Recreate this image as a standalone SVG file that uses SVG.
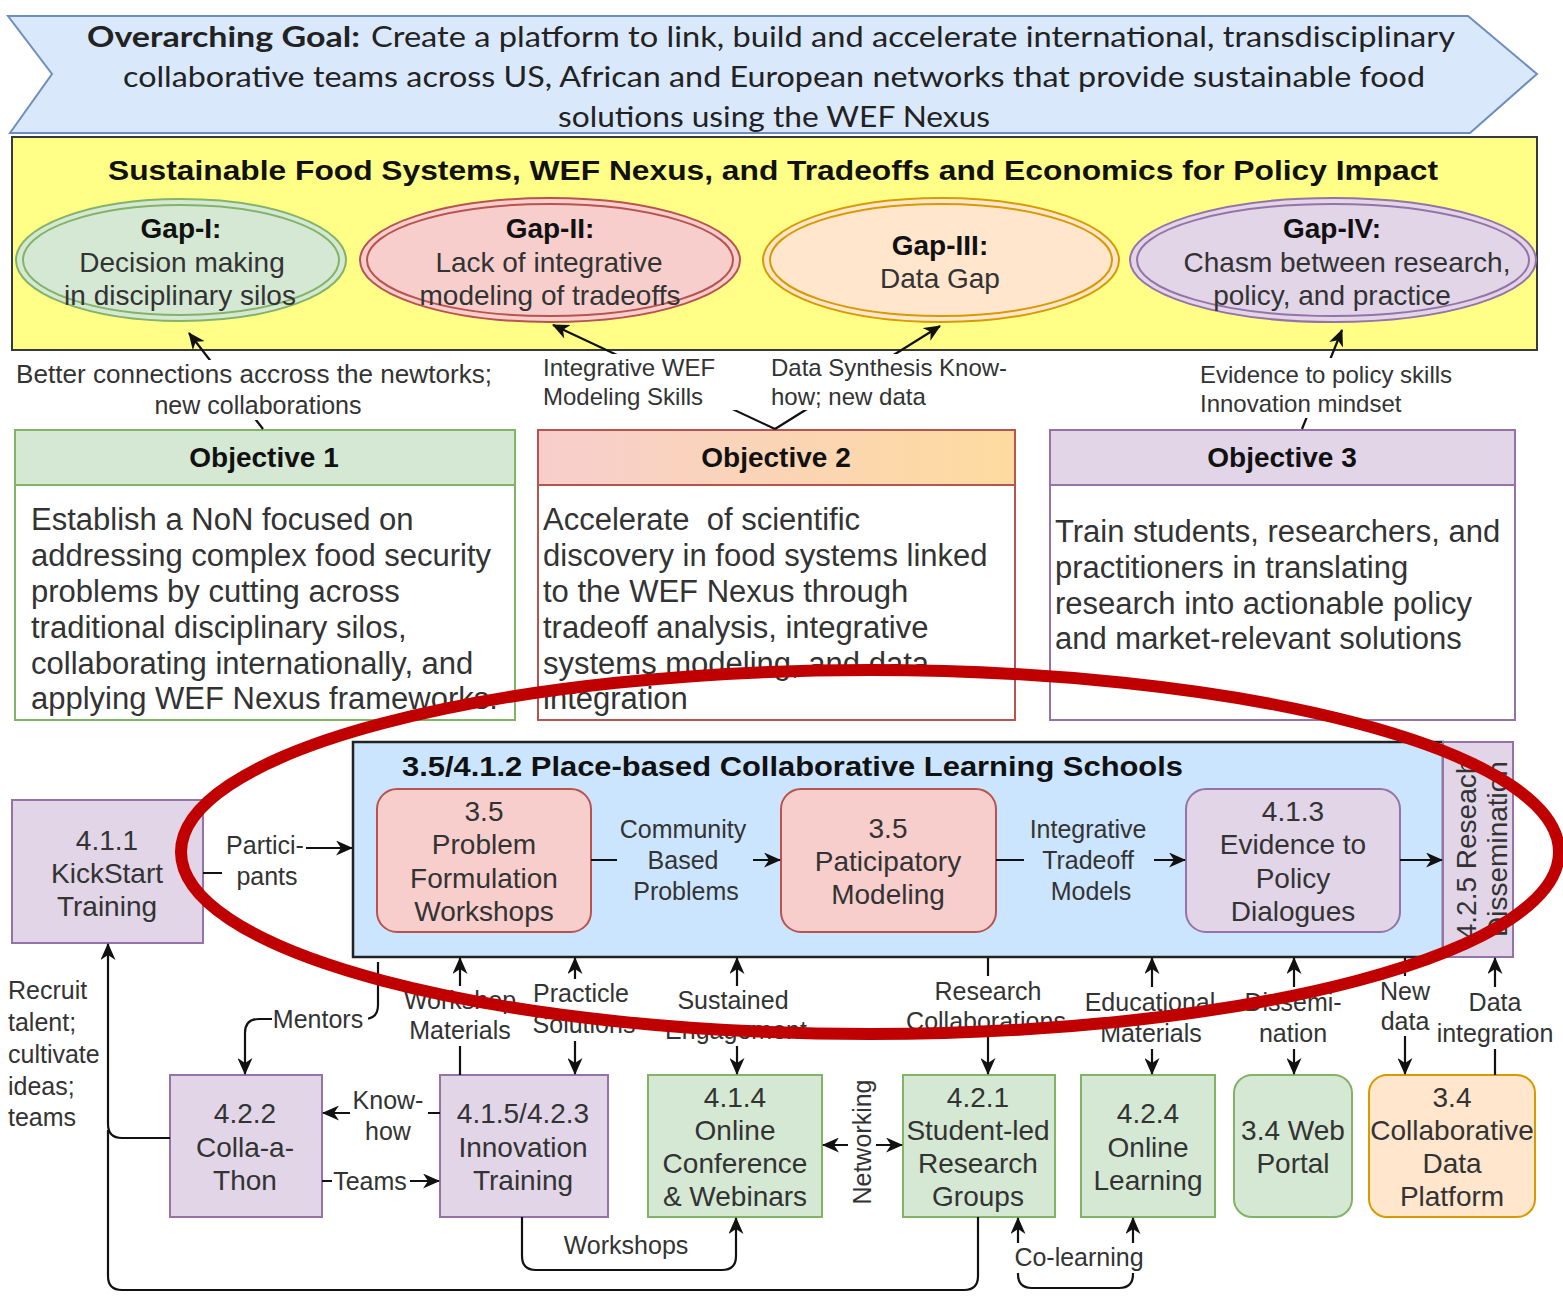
<svg xmlns="http://www.w3.org/2000/svg" width="1563" height="1296" viewBox="0 0 1563 1296">
<defs>
<style>
.t{font-family:"Liberation Sans",Arial,sans-serif;fill:#333}
.k{fill:#111}
.c{text-anchor:middle}
.b{font-weight:bold}
.s24{font-size:24px}
.s25{font-size:25px}
.s28{font-size:28px}
.s30{font-size:31px}
.cal{font-family:Lato,"Open Sans",sans-serif;font-size:28px;fill:#222}
.e{fill:none;stroke:#111;stroke-width:2.2}
.g{fill:#d5e8d4;stroke:#82b366;stroke-width:2}
.r{fill:#f8cecc;stroke:#b85450;stroke-width:2}
.o{fill:#ffe6cc;stroke:#d79b00;stroke-width:2}
.p{fill:#e1d5e7;stroke:#9673a6;stroke-width:2}
.w{fill:#fff;stroke:none}
.lb{fill:#cce5ff;stroke:none}
</style>
<linearGradient id="obj2g" x1="0" y1="0" x2="1" y2="0">
<stop offset="0" stop-color="#f8cecc"/>
<stop offset="1" stop-color="#fddb9f"/>
</linearGradient>
<marker id="ah" viewBox="0 0 17 15" refX="16" refY="7.5" markerWidth="17" markerHeight="15" markerUnits="userSpaceOnUse" orient="auto-start-reverse">
<path d="M0,0 L17,7.5 L0,15 L5,7.5 z" fill="#111"/>
</marker>
</defs>
<rect width="1563" height="1296" fill="#fff"/>

<g id="goal">
<polygon points="8,16 1468,16 1537,74 1470,133 10,133 52,74" fill="#dae8fc" stroke="#6c8ebf" stroke-width="2"/>
<text class="cal b" x="87" y="47" textLength="273" lengthAdjust="spacingAndGlyphs">Overarching Goal:</text>
<text class="cal" x="371" y="47" textLength="1084" lengthAdjust="spacingAndGlyphs">Create a platform to link, build and accelerate international, transdisciplinary</text>
<text class="cal" x="123" y="87" textLength="1302" lengthAdjust="spacingAndGlyphs">collaborative teams across US, African and European networks that provide sustainable food</text>
<text class="cal" x="558" y="127" textLength="432" lengthAdjust="spacingAndGlyphs">solutions using the WEF Nexus</text>
</g>

<g id="impact">
<rect x="12" y="137" width="1525" height="213" fill="#ffff88" stroke="#36393d" stroke-width="2"/>
<text class="t k b s28" x="108" y="180" textLength="1330" lengthAdjust="spacingAndGlyphs">Sustainable Food Systems, WEF Nexus, and Tradeoffs and Economics for Policy Impact</text>
</g>

<g id="gap1">
<ellipse cx="181" cy="260" rx="165" ry="61" class="g"/>
<ellipse cx="181" cy="260" rx="158" ry="55" fill="none" stroke="#82b366" stroke-width="2"/>
<text class="t k c b s28" x="181" y="238">Gap-I:</text>
<text class="t c s28" x="182" y="272">Decision making</text>
<text class="t c s28" x="180" y="305">in disciplinary silos</text>
</g>
<g id="gap2">
<ellipse cx="550" cy="260" rx="190" ry="62" class="r"/>
<ellipse cx="550" cy="260" rx="183" ry="56" fill="none" stroke="#b85450" stroke-width="2"/>
<text class="t k c b s28" x="550" y="238">Gap-II:</text>
<text class="t c s28" x="549" y="272">Lack of integrative</text>
<text class="t c s28" x="550" y="305">modeling of tradeoffs</text>
</g>
<g id="gap3">
<ellipse cx="941" cy="260" rx="178" ry="62" class="o"/>
<ellipse cx="941" cy="260" rx="171" ry="56" fill="none" stroke="#d79b00" stroke-width="2"/>
<text class="t k c b s28" x="940" y="255">Gap-III:</text>
<text class="t c s28" x="940" y="288">Data Gap</text>
</g>
<g id="gap4">
<ellipse cx="1333" cy="260" rx="203" ry="62" class="p"/>
<ellipse cx="1333" cy="260" rx="196" ry="56" fill="none" stroke="#9673a6" stroke-width="2"/>
<text class="t k c b s28" x="1332" y="238">Gap-IV:</text>
<text class="t c s28" x="1347" y="272">Chasm between research,</text>
<text class="t c s28" x="1332" y="305">policy, and practice</text>
</g>

<g id="obj1">
<rect x="15" y="430" width="500" height="290" fill="#fff" stroke="#82b366" stroke-width="2"/>
<rect x="15" y="430" width="500" height="55" class="g"/>
<text class="t k c b s28" x="264" y="467">Objective 1</text>
<text class="t s30" x="31" y="530">Establish a NoN focused on</text>
<text class="t s30" x="31" y="566">addressing complex food security</text>
<text class="t s30" x="31" y="602">problems by cutting across</text>
<text class="t s30" x="31" y="638">traditional disciplinary silos,</text>
<text class="t s30" x="31" y="674">collaborating internationally, and</text>
<text class="t s30" x="31" y="709">applying WEF Nexus frameworks.</text>
</g>
<g id="obj2">
<rect x="538" y="430" width="477" height="290" fill="#fff" stroke="#b85450" stroke-width="2"/>
<rect x="538" y="430" width="477" height="55" fill="url(#obj2g)" stroke="#b85450" stroke-width="2"/>
<text class="t k c b s28" x="776" y="467">Objective 2</text>
<text class="t s30" x="543" y="530" xml:space="preserve">Accelerate  of scientific</text>
<text class="t s30" x="543" y="566">discovery in food systems linked</text>
<text class="t s30" x="543" y="602">to the WEF Nexus through</text>
<text class="t s30" x="543" y="638">tradeoff analysis, integrative</text>
<text class="t s30" x="543" y="674">systems modeling, and data</text>
<text class="t s30" x="543" y="709">integration</text>
</g>
<g id="obj3">
<rect x="1050" y="430" width="465" height="290" fill="#fff" stroke="#9673a6" stroke-width="2"/>
<rect x="1050" y="430" width="465" height="55" class="p"/>
<text class="t k c b s28" x="1282" y="467">Objective 3</text>
<text class="t s30" x="1055" y="542">Train students, researchers, and</text>
<text class="t s30" x="1055" y="578">practitioners in translating</text>
<text class="t s30" x="1055" y="614">research into actionable policy</text>
<text class="t s30" x="1055" y="649">and market-relevant solutions</text>
</g>

<g id="schools">
<rect x="353" y="742" width="1090" height="215" fill="#cce5ff" stroke="#222" stroke-width="2.5"/>
<text class="t k b s28" x="402" y="776" textLength="781" lengthAdjust="spacingAndGlyphs">3.5/4.1.2 Place-based Collaborative Learning Schools</text>
</g>
<g id="n425">
<rect x="1443" y="742" width="70" height="215" class="p"/>
<text class="t c s28" transform="translate(1476,849) rotate(-90)" x="0" y="0">4.2.5 Reseach</text>
<text class="t c s28" transform="translate(1507,849) rotate(-90)" x="0" y="0">Dissemination</text>
</g>
<g id="n35a">
<rect x="377" y="789" width="214" height="143" rx="20" class="r"/>
<text class="t c s28" x="484" y="821">3.5</text>
<text class="t c s28" x="484" y="854">Problem</text>
<text class="t c s28" x="484" y="888">Formulation</text>
<text class="t c s28" x="484" y="921">Workshops</text>
</g>
<g id="n35b">
<rect x="781" y="789" width="215" height="143" rx="20" class="r"/>
<text class="t c s28" x="888" y="838">3.5</text>
<text class="t c s28" x="888" y="871">Paticipatory</text>
<text class="t c s28" x="888" y="904">Modeling</text>
</g>
<g id="n413">
<rect x="1186" y="789" width="214" height="143" rx="20" class="p"/>
<text class="t c s28" x="1293" y="821">4.1.3</text>
<text class="t c s28" x="1293" y="854">Evidence to</text>
<text class="t c s28" x="1293" y="888">Policy</text>
<text class="t c s28" x="1293" y="921">Dialogues</text>
</g>
<g id="n411">
<rect x="12" y="800" width="191" height="143" class="p"/>
<text class="t c s28" x="107" y="850">4.1.1</text>
<text class="t c s28" x="107" y="883">KickStart</text>
<text class="t c s28" x="107" y="916">Training</text>
</g>
<g id="n422">
<rect x="170" y="1075" width="152" height="142" class="p"/>
<text class="t c s28" x="245" y="1123">4.2.2</text>
<text class="t c s28" x="245" y="1157">Colla-a-</text>
<text class="t c s28" x="245" y="1190">Thon</text>
</g>
<g id="n415">
<rect x="440" y="1075" width="168" height="142" class="p"/>
<text class="t c s28" x="523" y="1123">4.1.5/4.2.3</text>
<text class="t c s28" x="523" y="1157">Innovation</text>
<text class="t c s28" x="523" y="1190">Training</text>
</g>
<g id="n414">
<rect x="648" y="1075" width="174" height="142" class="g"/>
<text class="t c s28" x="735" y="1107">4.1.4</text>
<text class="t c s28" x="735" y="1140">Online</text>
<text class="t c s28" x="735" y="1173">Conference</text>
<text class="t c s28" x="735" y="1206">&amp; Webinars</text>
</g>
<g id="n421">
<rect x="903" y="1075" width="152" height="142" class="g"/>
<text class="t c s28" x="978" y="1107">4.2.1</text>
<text class="t c s28" x="978" y="1140">Student-led</text>
<text class="t c s28" x="978" y="1173">Research</text>
<text class="t c s28" x="978" y="1206">Groups</text>
</g>
<g id="n424">
<rect x="1081" y="1075" width="134" height="142" class="g"/>
<text class="t c s28" x="1148" y="1123">4.2.4</text>
<text class="t c s28" x="1148" y="1157">Online</text>
<text class="t c s28" x="1148" y="1190">Learning</text>
</g>
<g id="n34web">
<rect x="1234" y="1075" width="118" height="142" rx="18" class="g"/>
<text class="t c s28" x="1293" y="1140">3.4 Web</text>
<text class="t c s28" x="1293" y="1173">Portal</text>
</g>
<g id="n34data">
<rect x="1369" y="1075" width="166" height="142" rx="18" class="o"/>
<text class="t c s28" x="1452" y="1107">3.4</text>
<text class="t c s28" x="1452" y="1140">Collaborative</text>
<text class="t c s28" x="1452" y="1173">Data</text>
<text class="t c s28" x="1452" y="1206">Platform</text>
</g>

<g id="connectors">
<path class="e" d="M263,429 L189,333" marker-end="url(#ah)"/>
<path class="e" d="M775,429 L553,325" marker-end="url(#ah)"/>
<path class="e" d="M775,429 L940,326" marker-end="url(#ah)"/>
<path class="e" d="M1302,429 L1342,330" marker-end="url(#ah)"/>
<path class="e" d="M203,873 H265 V848 H352" marker-end="url(#ah)"/>
<path class="e" d="M591,860 H780" marker-end="url(#ah)"/>
<path class="e" d="M996,860 H1185" marker-end="url(#ah)"/>
<path class="e" d="M1400,860 H1442" marker-end="url(#ah)"/>
<path class="e" d="M378,962 V1005 Q378,1019 364,1019 H259 Q245,1019 245,1033 V1074" marker-end="url(#ah)"/>
<path class="e" d="M460,1075 V958" marker-end="url(#ah)"/>
<path class="e" d="M575,958 V1074" marker-start="url(#ah)" marker-end="url(#ah)"/>
<path class="e" d="M737,958 V1074" marker-start="url(#ah)" marker-end="url(#ah)"/>
<path class="e" d="M988,958 V1074" marker-end="url(#ah)"/>
<path class="e" d="M1152,958 V1074" marker-start="url(#ah)" marker-end="url(#ah)"/>
<path class="e" d="M1294,958 V1074" marker-start="url(#ah)" marker-end="url(#ah)"/>
<path class="e" d="M1405,958 V1074" marker-end="url(#ah)"/>
<path class="e" d="M1495,1075 V958" marker-end="url(#ah)"/>
<path class="e" d="M170,1138 H122 Q108,1138 108,1124 V944" marker-end="url(#ah)"/>
<path class="e" d="M978,1217 V1276 Q978,1290 964,1290 H122 Q108,1290 108,1276 V1130"/>
<path class="e" d="M522,1217 V1256 Q522,1270 536,1270 H722 Q736,1270 736,1256 V1218" marker-end="url(#ah)"/>
<path class="e" d="M1018,1218 V1274 Q1018,1288 1032,1288 H1119 Q1133,1288 1133,1274 V1218" marker-start="url(#ah)" marker-end="url(#ah)"/>
<path class="e" d="M823,1145 H902" marker-start="url(#ah)" marker-end="url(#ah)"/>
<path class="e" d="M440,1113 H323" marker-end="url(#ah)"/>
<path class="e" d="M322,1181 H439" marker-end="url(#ah)"/>
</g>

<g id="edge-labels">
<rect class="w" x="14" y="360" width="482" height="60"/>
<text class="t s25" x="16" y="383" textLength="476" lengthAdjust="spacingAndGlyphs">Better connections accross the newtorks;</text>
<text class="t c s25" x="258" y="414">new collaborations</text>
<rect class="w" x="538" y="354" width="204" height="56"/>
<text class="t s24" x="543" y="376">Integrative WEF</text>
<text class="t s24" x="543" y="405">Modeling Skills</text>
<rect class="w" x="766" y="354" width="240" height="56"/>
<text class="t s24" x="771" y="376">Data Synthesis Know-</text>
<text class="t s24" x="771" y="405">how; new data</text>
<rect class="w" x="1197" y="358" width="256" height="60"/>
<text class="t s24" x="1200" y="383">Evidence to policy skills</text>
<text class="t s24" x="1200" y="412">Innovation mindset</text>

<rect class="w" x="222" y="828" width="84" height="64"/>
<text class="t c s25" x="265" y="854">Partici-</text>
<text class="t c s25" x="267" y="885">pants</text>
<rect class="lb" x="617" y="812" width="136" height="96"/>
<text class="t c s25" x="683" y="838">Community</text>
<text class="t c s25" x="683" y="869">Based</text>
<text class="t c s25" x="686" y="900">Problems</text>
<rect class="lb" x="1024" y="812" width="130" height="96"/>
<text class="t c s25" x="1088" y="838">Integrative</text>
<text class="t c s25" x="1088" y="869">Tradeoff</text>
<text class="t c s25" x="1091" y="900">Models</text>

<rect class="w" x="272" y="1006" width="96" height="26"/>
<text class="t c s25" x="318" y="1028">Mentors</text>
<rect class="w" x="400" y="986" width="122" height="60"/>
<text class="t c s25" x="460" y="1009">Workshop</text>
<text class="t c s25" x="460" y="1039">Materials</text>
<rect class="w" x="528" y="979" width="110" height="62"/>
<text class="t c s25" x="581" y="1002">Practicle</text>
<text class="t c s25" x="584" y="1033">Solutions</text>
<rect class="w" x="660" y="986" width="154" height="60"/>
<text class="t c s25" x="733" y="1009">Sustained</text>
<text class="t c s25" x="736" y="1039">Engagement</text>
<rect class="w" x="900" y="976" width="172" height="60"/>
<text class="t c s25" x="988" y="1000">Research</text>
<text class="t c s25" x="986" y="1030">Collaborations</text>
<rect class="w" x="1080" y="987" width="142" height="62"/>
<text class="t c s25" x="1150" y="1011">Educational</text>
<text class="t c s25" x="1151" y="1042">Materials</text>
<rect class="w" x="1240" y="987" width="108" height="62"/>
<text class="t c s25" x="1293" y="1011">Dissemi-</text>
<text class="t c s25" x="1293" y="1042">nation</text>
<rect class="w" x="1378" y="976" width="56" height="60"/>
<text class="t c s25" x="1405" y="1000">New</text>
<text class="t c s25" x="1405" y="1030">data</text>
<rect class="w" x="1436" y="987" width="124" height="62"/>
<text class="t c s25" x="1495" y="1011">Data</text>
<text class="t c s25" x="1495" y="1042">integration</text>

<text class="t s25" x="8" y="999">Recruit</text>
<text class="t s25" x="8" y="1031">talent;</text>
<text class="t s25" x="8" y="1063">cultivate</text>
<text class="t s25" x="8" y="1095">ideas;</text>
<text class="t s25" x="8" y="1126">teams</text>

<rect class="w" x="350" y="1086" width="78" height="60"/>
<text class="t c s25" x="388" y="1109">Know-</text>
<text class="t c s25" x="388" y="1140">how</text>
<rect class="w" x="332" y="1168" width="78" height="26"/>
<text class="t c s25" x="370" y="1190">Teams</text>
<text class="t c s25" x="626" y="1254">Workshops</text>
<rect class="w" x="1010" y="1243" width="138" height="30"/>
<text class="t c s25" x="1079" y="1266">Co-learning</text>
<rect class="w" x="848" y="1075" width="28" height="135"/>
<text class="t c s25" transform="translate(871,1142) rotate(-90)" x="0" y="0">Networking</text>
</g>

<g id="highlight">
<ellipse cx="870" cy="852" rx="689" ry="182" fill="none" stroke="#c00000" stroke-width="12"/>
</g>
</svg>
